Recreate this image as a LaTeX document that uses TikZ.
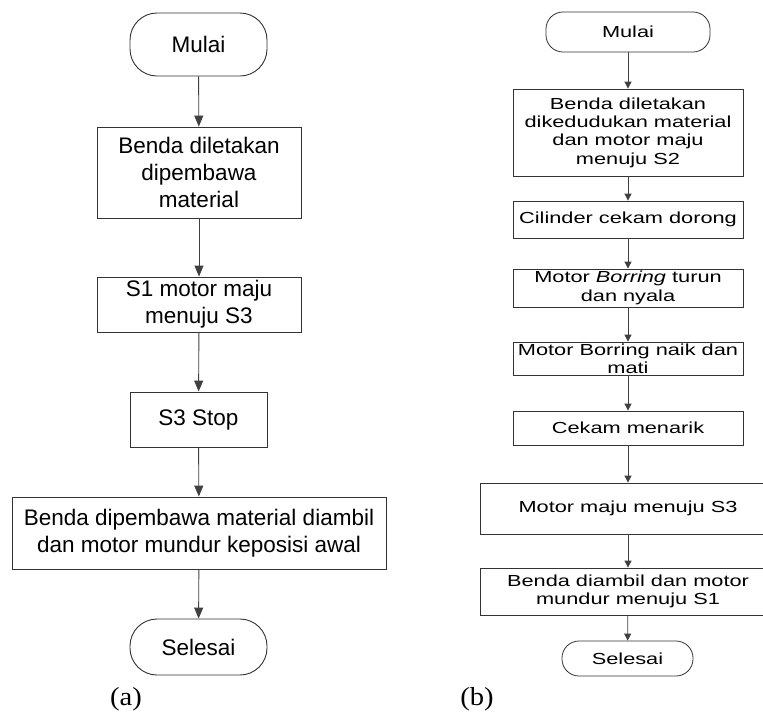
\documentclass[tikz,border=0pt]{standalone}
\usepackage{fontspec}
\setmainfont{Liberation Sans}
\newfontfamily\rfont[FakeStretch=1.36]{Liberation Sans}
\newfontfamily\capfont[FakeStretch=1.1]{Liberation Serif}
\usetikzlibrary{arrows.meta}
\begin{document}
\begin{tikzpicture}[x=1pt,y=-1pt,
  lbox/.style={draw=black!80, line width=0.9pt, inner sep=0pt, align=center, font=\fontsize{22.5}{27}\selectfont},
  lterm/.style={lbox, rounded corners=27pt},
  rbox/.style={draw=black!80, line width=0.8pt, inner sep=0pt, align=center, font=\rfont\fontsize{16}{18.3}\selectfont},
  rterm/.style={rbox, rounded corners=17pt},
  larr/.style={draw=black!75, line width=0.9pt, -{Triangle[width=9pt,length=11pt]}},
  rarr/.style={draw=black!75, line width=0.8pt, -{Triangle[width=7pt,length=7pt]}},
  subcap/.style={font=\capfont\fontsize{26}{26}\selectfont, inner sep=0pt}
]
\useasboundingbox (0,0) rectangle (763,713);
\clip (0,0) rectangle (763,713);
% (a)
\node[lterm, minimum width=137pt, minimum height=63pt] (a0) at (198.5,44.5) {Mulai};
\node[lbox, minimum width=204pt, minimum height=91pt] (a1) at (199,172.5) {Benda diletakan\\dipembawa\\material};
\node[lbox, minimum width=204pt, minimum height=55pt] (a2) at (199,304.5) {S1 motor maju\\menuju S3};
\node[lbox, minimum width=137pt, minimum height=55pt] (a3) at (198.5,419.5) {S3 Stop};
\node[lbox, minimum width=374pt, minimum height=72pt] (a4) at (199,533) {Benda dipembawa material diambil\\dan motor mundur keposisi awal};
\node[lterm, minimum width=137pt, minimum height=56pt] (a5) at (198.5,647) {Selesai};
\node[subcap] (ca) at (126,699) {(a)};
\draw[larr] (a0) -- (a1);
\draw[larr] (a1) -- (a2);
\draw[larr] (a2) -- (a3);
\draw[larr] (a3) -- (a4);
\draw[larr] (a4) -- (a5);
% (b)
\node[rterm, minimum width=164pt, minimum height=40pt] (b0) at (628,32) {Mulai};
\node[rbox, minimum width=230pt, minimum height=87pt] (b1) at (628,132.5) {Benda diletakan\\dikedudukan material\\dan motor maju\\menuju S2};
\node[rbox, minimum width=230pt, minimum height=37pt] (b2) at (628,219.5) {Cilinder cekam dorong};
\node[rbox, minimum width=230pt, minimum height=38pt] (b3) at (628,288) {Motor \textit{Borring} turun\\dan nyala};
\node[rbox, minimum width=230pt, minimum height=33pt] (b4) at (628,358.5) {Motor Borring naik dan\\mati};
\node[rbox, minimum width=230pt, minimum height=34pt] (b5) at (628,428) {Cekam menarik};
\node[rbox, minimum width=296pt, minimum height=51pt] (b6) at (628,508.5) {Motor maju menuju S3};
\node[rbox, minimum width=296pt, minimum height=47pt] (b7) at (628,591.5) {Benda diambil dan motor\\mundur menuju S1};
\node[rterm, minimum width=131pt, minimum height=35pt] (b8) at (627.5,658.5) {Selesai};
\node[subcap] (cb) at (477,699) {(b)};
\draw[rarr] (b0) -- (b1);
\draw[rarr] (b1) -- (b2);
\draw[rarr] (b2) -- (b3);
\draw[rarr] (b3) -- (b4);
\draw[rarr] (b4) -- (b5);
\draw[rarr] (b5) -- (b6);
\draw[rarr] (b6) -- (b7);
\draw[rarr] (b7) -- (b8);
\end{tikzpicture}
\end{document}
